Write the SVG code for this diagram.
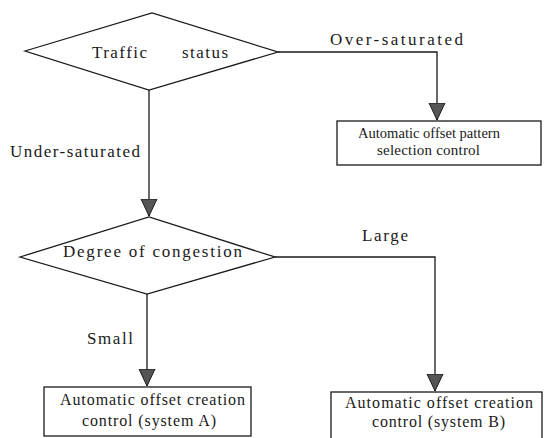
<svg xmlns="http://www.w3.org/2000/svg" width="544" height="438" viewBox="0 0 544 438" font-family="'Liberation Serif', 'DejaVu Serif', serif">
<style>
.shape{fill:#fff;stroke:#1a1a1a;stroke-width:1.3}
.conn{fill:none;stroke:#1a1a1a;stroke-width:1.3}
text{font-family:'Liberation Serif','DejaVu Serif','Times New Roman',serif;font-size:17px;fill:#1a1a1a}
.box text{font-size:16px}
#pattern-selection text{font-size:15px}
</style>
<defs>
<marker id="arr" markerUnits="userSpaceOnUse" markerWidth="18" markerHeight="18" viewBox="0 0 18 18" refX="17" refY="9" orient="auto">
<path d="M0,1 L17,9 L0,17 Z" fill="#555" stroke="#1a1a1a" stroke-width="1"/>
</marker>
</defs>
<rect width="544" height="438" fill="#fff"/>
<g id="connectors">
<path class="conn" d="M278,52 H437 V120" marker-end="url(#arr)"/>
<path class="conn" d="M149,90 V216" marker-end="url(#arr)"/>
<path class="conn" d="M275,257 H435 V391" marker-end="url(#arr)"/>
<path class="conn" d="M147,294 V386" marker-end="url(#arr)"/>
<text x="330" y="45" textLength="133" lengthAdjust="spacing">Over-saturated</text>
<text x="10" y="157" textLength="130" lengthAdjust="spacing">Under-saturated</text>
<text x="362" y="241" textLength="46" lengthAdjust="spacing">Large</text>
<text x="87" y="344" textLength="46" lengthAdjust="spacing">Small</text>
</g>
<g id="traffic-status">
<polygon class="shape" points="25,51 152,13 278,52 149,90"/>
<text x="92" y="58" textLength="55" lengthAdjust="spacing">Traffic</text>
<text x="182" y="58" textLength="46" lengthAdjust="spacing">status</text>
</g>
<g id="pattern-selection" class="box">
<rect class="shape" x="337" y="121" width="204" height="44"/>
<text x="358" y="138" textLength="142" lengthAdjust="spacingAndGlyphs">Automatic offset pattern</text>
<text x="377" y="155" textLength="103" lengthAdjust="spacing">selection control</text>
</g>
<g id="degree-of-congestion">
<polygon class="shape" points="20,257 149,217 275,257 147,294"/>
<text x="63" y="257" textLength="179" lengthAdjust="spacing">Degree of congestion</text>
</g>
<g id="system-a" class="box">
<rect class="shape" x="44" y="387" width="207" height="49"/>
<text x="60" y="405" textLength="185" lengthAdjust="spacing">Automatic offset creation</text>
<text x="82" y="426" textLength="134" lengthAdjust="spacing">control (system A)</text>
</g>
<g id="system-b" class="box">
<rect class="shape" x="331" y="392" width="211" height="50"/>
<text x="345" y="408" textLength="188" lengthAdjust="spacing">Automatic offset creation</text>
<text x="372" y="427" textLength="133" lengthAdjust="spacing">control (system B)</text>
</g>
</svg>
